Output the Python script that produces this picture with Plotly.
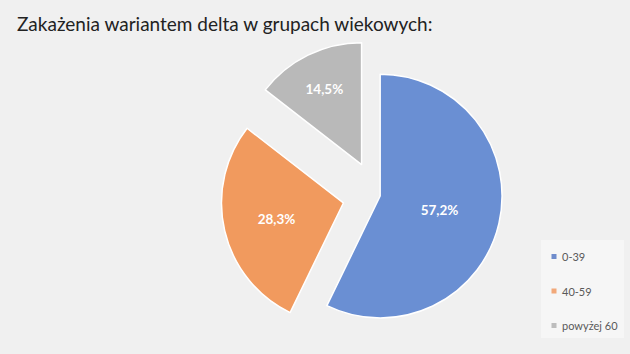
import plotly.graph_objects as go

title_text = "Zakażenia wariantem delta w grupach wiekowych:"
labels = ["0-39", "40-59", "powyżej 60"]
values = [57.2, 28.3, 14.5]
colors = ["#6a8fd3", "#f19a5e", "#b9b9b9"]
legend_colors = ["#6f8ccc", "#f2a97a", "#bdbdbd"]
pulls = [0.03, 0.28, 0.28]

W, H = 630, 354
fig = go.Figure()
fig.add_trace(go.Pie(
    labels=labels,
    values=values,
    sort=False,
    direction="clockwise",
    rotation=0,
    pull=pulls,
    marker=dict(colors=colors, line=dict(color="#ffffff", width=1.5)),
    texttemplate="%{value:.1f}%",
    textposition="inside",
    insidetextorientation="horizontal",
    textfont=dict(family="Lato", size=13.5, color="#ffffff", weight="bold"),
    showlegend=False,
    hoverinfo="skip",
    domain=dict(x=[220.6 / W, 532.6 / W], y=[2.8 / H, 314.8 / H]),
))

shapes = [dict(type="rect", xref="paper", yref="paper",
               x0=541 / W, x1=624 / W, y0=1 - 338 / H, y1=1 - 240 / H,
               fillcolor="#f6f6f6", line=dict(width=0), layer="below")]
annotations = []
for i, lab in enumerate(labels):
    yc = 256.5 + i * 34.5
    shapes.append(dict(type="rect", xref="paper", yref="paper",
                       x0=551.5 / W, x1=556.5 / W,
                       y0=1 - (yc + 2.5) / H, y1=1 - (yc - 2.5) / H,
                       fillcolor=legend_colors[i], line=dict(width=0)))
    annotations.append(dict(xref="paper", yref="paper", x=559.5 / W, y=1 - yc / H,
                            xanchor="left", yanchor="middle", showarrow=False,
                            text=lab, font=dict(family="Lato", size=11, color="#595959")))

fig.update_layout(
    width=W, height=H,
    margin=dict(l=0, r=0, t=0, b=0),
    paper_bgcolor="#f0f0f0",
    plot_bgcolor="#f0f0f0",
    separators=", ",
    title=dict(text=title_text, x=17 / W, xanchor="left", y=1 - 24 / H, yanchor="middle",
               font=dict(family="Lato", size=19, color="#222222")),
    shapes=shapes,
    annotations=annotations,
)
fig.write_html("out.html")
